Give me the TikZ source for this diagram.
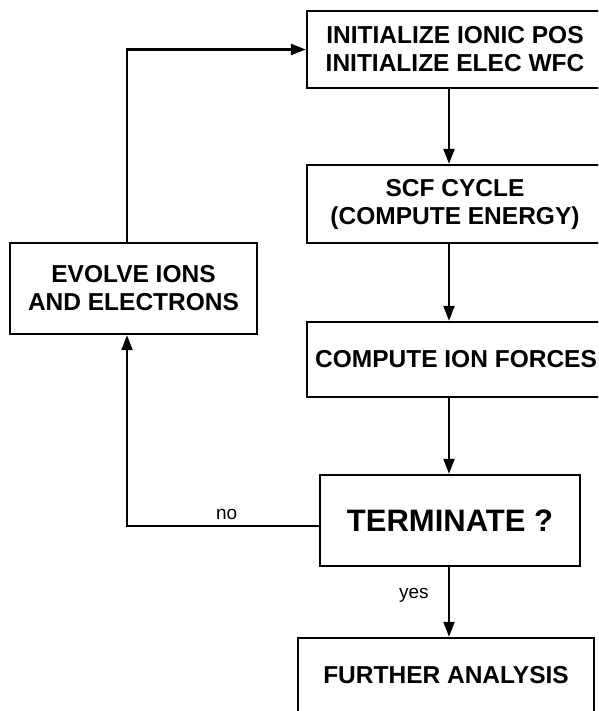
\documentclass[tikz,border=0pt]{standalone}
\usepackage{fontspec}
\setmainfont{Liberation Sans}
\usetikzlibrary{arrows.meta}

\tikzset{
  stepbox/.style={draw, line width=2.4pt, inner sep=0pt, align=center,
    font=\fontsize{24.5}{28}\selectfont\bfseries},
  flow/.style={line width=2.2pt, -{Triangle[length=15pt,width=11pt]}},
  lbl/.style={font=\fontsize{19}{22}\selectfont}
}

\begin{document}
\begin{tikzpicture}[x=1pt, y=-1pt]
  \useasboundingbox (0,0) rectangle (598,711);
  \clip (0,0) rectangle (598,711);
  % steps of the run
  \node[stepbox, minimum width=296pt, minimum height=77pt] (init) at (455,49.5)
    {INITIALIZE IONIC POS\\INITIALIZE ELEC WFC};
  \node[stepbox, minimum width=296pt, minimum height=78pt] (scf) at (455,204)
    {SCF CYCLE\\(COMPUTE ENERGY)};
  \node[stepbox, minimum width=247pt, minimum height=91pt] (evolve) at (133.5,288.5)
    {EVOLVE IONS\\AND ELECTRONS};
  \node[stepbox, minimum width=298pt, minimum height=75pt] (forces) at (456,359.5)
    {COMPUTE ION FORCES};
  \node[stepbox, font=\fontsize{31}{36}\selectfont\bfseries,
        minimum width=260pt, minimum height=91pt] (term) at (450,520.5) {TERMINATE ?};
  \node[stepbox, minimum width=296pt, minimum height=75pt] (further) at (446,675.5)
    {FURTHER ANALYSIS};

  % main column and the loop back
  \coordinate (spine) at (449,0);
  \coordinate (loop) at (127,526);
  \draw[flow] (init.south -| spine) -- (scf.north -| spine);
  \draw[flow] (scf.south -| spine) -- (forces.north -| spine);
  \draw[flow] (forces.south -| spine) -- (term.north -| spine);
  \draw[flow] (term.south -| spine) -- node[lbl, left=16pt, pos=0.4] {yes} (further.north -| spine);
  \draw[flow] (term.west |- loop) -- node[lbl, above=2pt, pos=0.48] {no} (loop) -- (evolve.south -| loop);
  \draw[flow] (evolve.north -| loop) |- (init.west);
\end{tikzpicture}
\end{document}
